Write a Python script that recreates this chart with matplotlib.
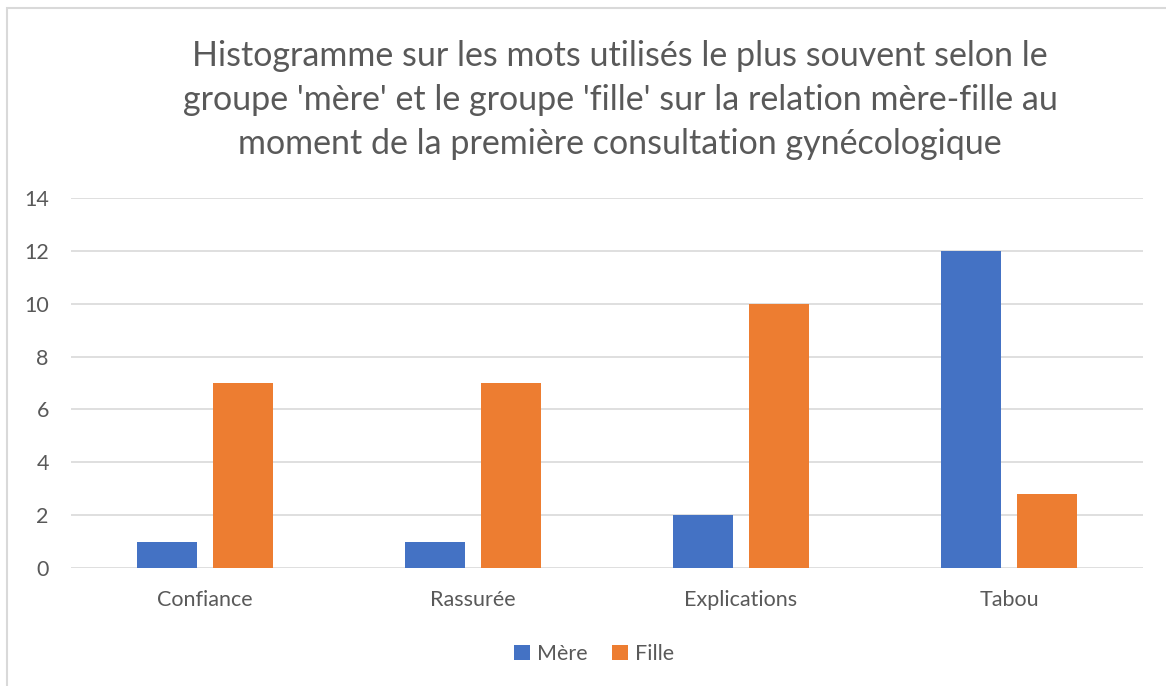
import matplotlib
matplotlib.use("Agg")
import matplotlib.pyplot as plt
import numpy as np
from matplotlib.patches import Rectangle

plt.rcParams["font.family"] = ["Lato", "DejaVu Sans"]

categories = ["Confiance", "Rassurée", "Explications", "Tabou"]
mere = [1, 1, 2, 12]
fille = [7, 7, 10, 2.8]
yticks = [0, 2, 4, 6, 8, 10, 12, 14]

BLUE = "#4472C4"
ORANGE = "#ED7D31"
TXT = "#595959"

W, H = 1166, 686
fig = plt.figure(figsize=(W / 100, H / 100), dpi=100)
ax = fig.add_axes([71 / W, 1 - 568 / H, (1143 - 71) / W, (568 - 198) / H])

# chart border (light gray frame, clipped at right/bottom)
fig.add_artist(Rectangle((7 / W, -0.01), 1.2, 1 - 8 / H + 0.01,
                         transform=fig.transFigure, fill=False,
                         ec="#D9D9D9", lw=1.5))

x = np.arange(len(categories))
bw = 60 / 268
off = 38 / 268
ax.bar(x - off, mere, bw, color=BLUE, label="Mère", zorder=3)
ax.bar(x + off, fille, bw, color=ORANGE, label="Fille", zorder=3)

ax.set_xlim(-0.5, len(categories) - 0.5)
ax.set_ylim(0, 14)
ax.set_yticks(yticks)
ax.set_yticklabels([str(v) for v in yticks], fontsize=15.5, color=TXT)
ax.set_xticks(x)
ax.set_xticklabels(categories, fontsize=15.5, color=TXT)
ax.tick_params(length=0)
ax.tick_params(axis="y", pad=16)
ax.tick_params(axis="x", pad=16)
ax.grid(axis="y", color="#D9D9D9", lw=1.2, zorder=0)
for s in ax.spines.values():
    s.set_visible(False)

fig.text(620 / W, 1 - 100 / H,
         "Histogramme sur les mots utilisés le plus souvent selon le\n"
         "groupe 'mère' et le groupe 'fille' sur la relation mère-fille au\n"
         "moment de la première consultation gynécologique",
         ha="center", va="center", fontsize=24.5, color=TXT, linespacing=1.45)

fig.legend(loc="center", bbox_to_anchor=(594 / W, 1 - 654 / H), ncol=2,
           frameon=False, fontsize=15.5, labelcolor=TXT, handlelength=0.75,
           handleheight=0.75, handletextpad=0.35, columnspacing=1.1)

fig.savefig("out.png", dpi=100, facecolor="white")
